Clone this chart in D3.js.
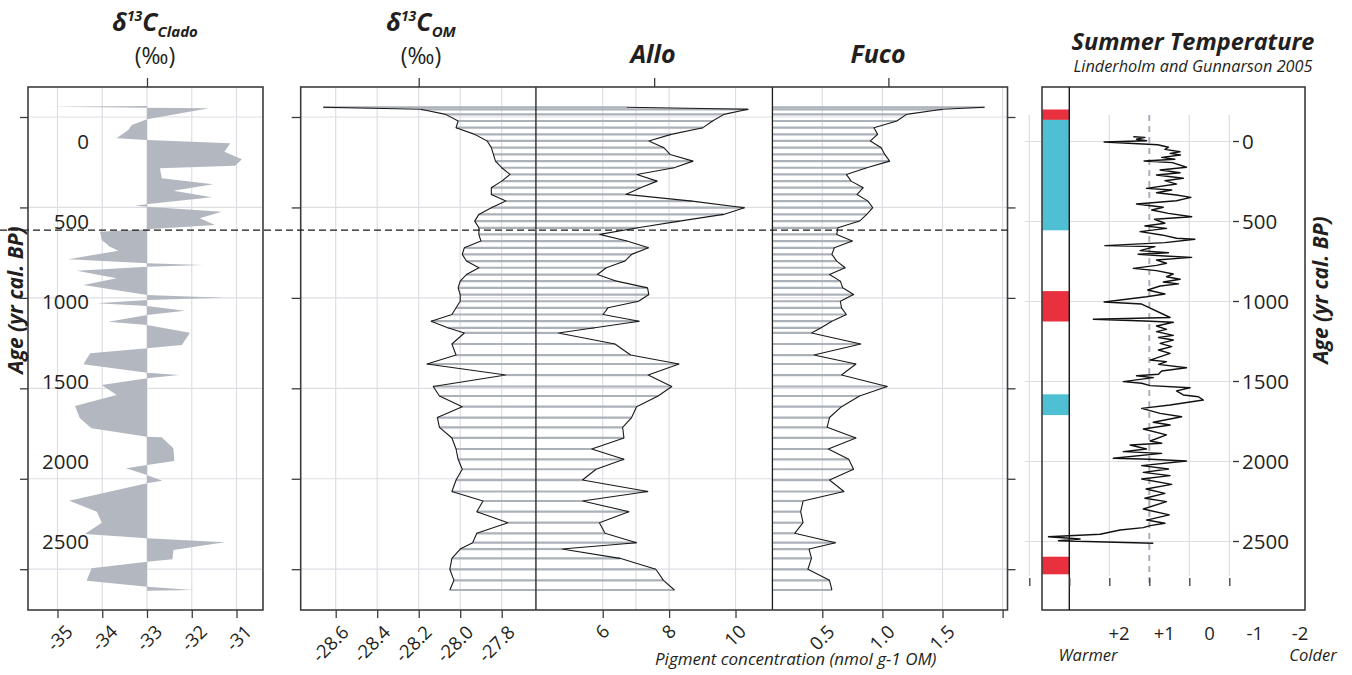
<!DOCTYPE html>
<html>
<head>
<meta charset="utf-8">
<script src="https://cdn.jsdelivr.net/npm/d3@7"></script>
<style>
body { margin: 0; background: #fff; }
text { font-family: "Open Sans", sans-serif; fill: #231f20; }
.bi { font-weight: bold; font-style: italic; }
.it { font-style: italic; }
</style>
</head>
<body>
<svg id="chart" width="1352" height="675"></svg>
<script>
// d13C Clado (left panel), depth / value
var cladoDepth = [8.78, 8.86, 8.97, 9.04, 10.25, 10.88, 11.44, 12.36, 12.54, 12.91, 13.84, 14.68, 15.38, 15.67, 16.78, 17.44, 18.15, 18.88, 19.62, 19.81, 19.92, 20.47, 21.20, 21.94, 22.42, 22.68, 23.60, 24.34, 24.78, 25.73, 26.18, 26.36, 26.55, 27.00, 27.84, 28.58, 29.68, 29.98, 30.23, 30.60, 30.90, 31.42, 31.89, 32.63, 33.00, 33.85, 35.21, 35.58, 36.13, 37.34, 38.27, 38.53, 38.89, 39.63, 40.74, 41.96, 43.32, 44.42, 45.35, 45.42, 46.63, 48.04, 48.48, 48.84, 49.58, 50.21, 50.50, 52.43, 53.64, 54.86, 56.11, 56.58, 57.03, 57.88, 58.91, 59.17, 59.90, 61.27, 61.94, 62.30, 62.38];
var cladoVal = [-33.0, -35.17, -33.0, -31.61, -33.0, -33.34, -33.42, -33.68, -33.0, -31.14, -31.27, -30.88, -31.03, -32.71, -32.67, -31.52, -32.41, -31.55, -32.97, -33.27, -33.0, -31.33, -31.82, -31.48, -33.0, -34.05, -34.01, -33.83, -33.64, -34.76, -33.0, -31.74, -33.0, -34.57, -33.68, -34.42, -33.0, -31.29, -33.0, -34.12, -33.0, -32.15, -33.0, -33.86, -33.0, -32.04, -32.22, -33.0, -34.27, -34.42, -33.0, -32.28, -33.0, -34.01, -33.68, -34.61, -34.5, -34.24, -33.0, -32.67, -32.41, -32.39, -33.0, -33.47, -33.0, -32.66, -33.0, -34.74, -34.12, -34.01, -34.39, -33.0, -31.26, -32.41, -32.43, -33.0, -34.24, -34.35, -33.0, -31.97, -33.0];

// pigment / d13C OM samples (shared depths)
var pigDepth = [8.92, 9.15, 9.71, 10.44, 11.18, 11.92, 12.65, 13.39, 14.14, 14.88, 15.61, 16.35, 17.09, 17.82, 18.56, 19.30, 20.03, 20.77, 21.51, 22.25, 22.98, 23.72, 24.46, 25.19, 25.93, 26.67, 27.42, 28.15, 28.89, 29.63, 30.37, 31.10, 31.84, 32.58, 33.31, 33.88, 35.10, 36.32, 37.31, 38.53, 39.80, 40.85, 42.03, 43.23, 44.31, 45.49, 46.71, 47.85, 48.95, 50.14, 51.41, 52.46, 53.64, 54.86, 56.03, 57.07, 57.77, 58.80, 60.01, 61.23, 62.30];
var omVal = [-28.66, -28.19, -28.07, -28.01, -28.02, -27.93, -27.87, -27.85, -27.84, -27.83, -27.80, -27.76, -27.80, -27.85, -27.85, -27.78, -27.85, -27.91, -27.93, -27.91, -27.91, -27.90, -27.98, -27.99, -27.97, -27.91, -27.97, -28.00, -28.01, -28.00, -28.00, -28.02, -28.04, -28.14, -28.06, -27.98, -28.04, -28.02, -28.16, -27.78, -28.13, -28.10, -27.99, -28.11, -28.10, -28.04, -28.02, -28.01, -27.99, -28.02, -28.04, -27.89, -27.92, -27.77, -27.92, -27.94, -28.00, -28.04, -28.05, -28.03, -28.05];
var alloVal = [6.72, 10.38, 9.65, 9.31, 9.02, 8.06, 7.39, 7.84, 8.03, 8.72, 8.15, 7.03, 7.64, 7.14, 6.70, 8.69, 10.27, 9.64, 8.31, 7.06, 5.91, 6.73, 7.38, 6.87, 6.67, 6.11, 5.84, 6.42, 7.35, 7.39, 7.08, 6.16, 6.01, 7.10, 5.76, 4.66, 6.37, 6.84, 8.30, 7.37, 8.08, 7.67, 7.02, 6.87, 6.60, 6.64, 5.67, 6.64, 5.80, 5.39, 7.36, 5.39, 6.79, 5.90, 6.07, 7.02, 4.77, 6.52, 7.60, 7.83, 8.16];
var fucoVal = [1.85, 1.50, 1.20, 1.12, 0.93, 0.96, 0.90, 0.99, 1.02, 1.06, 0.87, 0.70, 0.74, 0.84, 0.79, 0.88, 0.92, 0.87, 0.81, 0.63, 0.62, 0.75, 0.60, 0.58, 0.62, 0.69, 0.56, 0.65, 0.67, 0.76, 0.65, 0.66, 0.70, 0.58, 0.49, 0.41, 0.82, 0.43, 0.78, 0.66, 1.04, 0.81, 0.66, 0.56, 0.54, 0.78, 0.55, 0.72, 0.76, 0.56, 0.68, 0.34, 0.32, 0.34, 0.27, 0.61, 0.39, 0.41, 0.38, 0.56, 0.58];

// summer temperature anomaly (Linderholm & Gunnarson 2005)
var tempAge = [-30, -26, -14, -5, 3, 20, 36, 49, 64, 74, 84, 99, 111, 122, 132, 161, 178, 195, 209, 230, 245, 266, 293, 303, 320, 334, 349, 370, 391, 411, 428, 449, 470, 486, 511, 528, 543, 563, 584, 605, 611, 632, 651, 657, 682, 695, 705, 716, 724, 741, 761, 774, 793, 807, 828, 845, 861, 878, 890, 903, 928, 953, 970, 1003, 1016, 1100, 1111, 1122, 1130, 1153, 1174, 1188, 1212, 1225, 1241, 1262, 1282, 1303, 1324, 1366, 1376, 1393, 1414, 1434, 1455, 1464, 1476, 1501, 1511, 1526, 1539, 1559, 1584, 1595, 1616, 1636, 1647, 1668, 1699, 1720, 1755, 1772, 1797, 1834, 1872, 1886, 1897, 1922, 1938, 1949, 1980, 1986, 1997, 2026, 2047, 2068, 2088, 2109, 2143, 2172, 2199, 2230, 2251, 2297, 2334, 2366, 2386, 2401, 2413, 2428, 2455, 2470, 2484, 2495, 2511];
var tempVal = [0.40, 0.11, 0.32, 0.07, 1.13, -0.21, -0.48, -0.39, -0.77, -0.52, -0.78, -0.31, -0.64, 0.13, -0.58, -0.93, -0.27, -0.77, -0.18, -0.85, -0.39, -0.68, 0.07, -0.56, -0.18, -0.68, -1.04, -0.68, 0.32, -0.35, -0.06, -0.48, -1.06, -0.13, -0.39, 0.11, -0.43, 0.23, -0.31, -0.68, -1.14, -0.39, 1.11, -0.14, 0.23, -0.48, 0.28, -0.39, -1.06, -0.18, -0.43, -0.18, 0.40, -0.18, -0.60, -0.43, -0.77, -0.35, -0.73, -0.27, 0.04, -0.39, 0.07, 1.13, 0.19, -0.52, 1.40, 0.11, -0.60, -0.18, -0.43, -0.18, -0.60, -0.23, -0.60, -0.27, -0.56, -0.23, -0.52, -0.02, -0.43, -0.23, -0.93, -0.31, -0.23, 0.32, -0.10, 0.65, 0.19, -0.02, -1.02, -0.68, -0.85, -1.23, -1.35, -0.81, -0.52, 0.19, -0.27, -0.81, -0.10, -0.52, 0.15, -0.43, -0.02, -0.31, 0.48, 0.07, 0.65, -0.31, 0.90, -0.02, -0.93, 0.19, -0.48, 0.15, -0.52, 0.19, -0.56, 0.08, -0.39, 0.11, -0.43, 0.15, -0.50, 0.07, -0.39, -0.02, 0.15, 0.73, 1.23, 2.52, 1.73, 2.27, -0.10];

// warm / cold periods
var bandStart = [-200, -135, 935, 1580, 2595];
var bandEnd = [-135, 555, 1125, 1710, 2705];
var bandKind = ["warm", "cold", "warm", "cold", "warm"];

// ticks
var depthTicks = [10, 20, 30, 40, 50, 60];
var ageTicks = [0, 500, 1000, 1500, 2000, 2500];
var cladoTicks = [-35, -34, -33, -32, -31];
var omTicks = [-28.6, -28.4, -28.2, -28.0, -27.8];
var alloGrid = [6, 7, 8, 10];
var alloTicks = [6, 8, 10];
var fucoGrid = [0.5, 1.0, 1.5, 2.0];
var fucoTicks = [0.5, 1.0, 1.5];
var tempGrid = [3, 2, 1, -1, -2];
var tempTicks = [3, 2, 1, 0, -1, -2];
var tempLabels = ["+2", "+1", "0", "-1", "-2"];
var tempLabelVal = [2, 1, 0, -1, -2];

var gridCol = "#dddde4", frameCol = "#3c3c3c", barCol = "#abb1b9", fillCol = "#b3b8c0";
var redCol = "#e8303f", cyanCol = "#4fc0d3";

var svg = d3.select("#chart");

var p1 = {l: 28, r: 263, t: 87, b: 610};
var p2 = {l: 300.7, r: 1007.5, t: 87, b: 610};
var p3 = {l: 1042, r: 1305, t: 87, b: 610};

var yDepth = d3.scaleLinear().domain([10, 60]).range([117, 569.2]);
var yAge = d3.scaleLinear().domain([0, 2500]).range([141.5, 541.5]);
var xClado = d3.scaleLinear().domain([-35, -31]).range([57.5, 236.5]);
var xOM = d3.scaleLinear().domain([-28.6, -27.8]).range([335.7, 501.7]);
var xAllo = d3.scaleLinear().domain([6, 10]).range([602.7, 735.5]);
var xFuco = d3.scaleLinear().domain([0.5, 1.5]).range([822.3, 942.5]);
var xTemp = d3.scaleLinear().domain([1, -2]).range([1109.3, 1229.3]);
var xTempLbl = d3.scaleLinear().domain([2, -2]).range([1119, 1300]);

var omBase = -27.635, alloBase = 4, fucoBase = 0.085, cladoBase = -33;

var pig = pigDepth.map(function(d, i) {
  return {depth: d, om: omVal[i], allo: alloVal[i], fuco: fucoVal[i]};
});
var clado = cladoDepth.map(function(d, i) { return {depth: d, v: cladoVal[i]}; });
var temp = tempAge.map(function(d, i) { return {age: d, v: tempVal[i]}; });

function vgrid(vals, sc, p) {
  svg.append("g").selectAll("line").data(vals).join("line")
    .attr("x1", sc).attr("x2", sc).attr("y1", p.t).attr("y2", p.b)
    .attr("stroke", gridCol).attr("stroke-width", 1.2);
}
function hgrid(p) {
  svg.append("g").selectAll("line").data(depthTicks).join("line")
    .attr("x1", p.l).attr("x2", p.r)
    .attr("y1", yDepth).attr("y2", yDepth)
    .attr("stroke", gridCol).attr("stroke-width", 1.2);
}
function frame(p) {
  svg.append("rect").attr("x", p.l).attr("y", p.t)
    .attr("width", p.r - p.l).attr("height", p.b - p.t)
    .attr("fill", "none").attr("stroke", frameCol).attr("stroke-width", 1.6);
}
function axisTicks(axis, tx, ty) {
  var g = svg.append("g").attr("transform", "translate(" + tx + "," + ty + ")").call(axis);
  g.select(".domain").remove();
  g.selectAll("text").remove();
  g.selectAll("line").attr("stroke", frameCol).attr("stroke-width", 1.3);
}
function rotLabels(sc, vals, fmt, dx) {
  svg.append("g").selectAll("text").data(vals).join("text")
    .attr("font-size", 18.5)
    .attr("text-anchor", "middle")
    .attr("dominant-baseline", "central")
    .text(fmt)
    .attr("transform", function(d) {
      var w = this.getComputedTextLength();
      return "translate(" + (sc(d) + dx) + "," + (627 + 0.38 * w) + ") rotate(-45)";
    });
}

// ---------- panel 1 : d13C Clado ----------
vgrid(cladoTicks, xClado, p1);
hgrid(p1);

svg.append("path").datum(clado)
  .attr("d", d3.area()
    .y(function(d) { return yDepth(d.depth); })
    .x0(xClado(cladoBase))
    .x1(function(d) { return xClado(d.v); }))
  .attr("fill", fillCol);

frame(p1);
axisTicks(d3.axisLeft(yDepth).tickValues(depthTicks).tickSize(8), p1.l, 0);
axisTicks(d3.axisBottom(xClado).tickValues(cladoTicks).tickSize(8), 0, p1.b);
axisTicks(d3.axisTop(xClado).tickValues([-33]).tickSize(9), 0, p1.t);
rotLabels(xClado, cladoTicks, function(d) { return String(d); }, 1.5);

svg.append("g").selectAll("text").data(ageTicks).join("text")
  .attr("x", 89).attr("y", yAge).attr("dy", "0.36em")
  .attr("text-anchor", "end").attr("font-size", 20.5)
  .text(function(d) { return d; });

// ---------- panel 2 : d13C OM, Allo, Fuco ----------
vgrid(omTicks, xOM, p2);
vgrid(alloGrid, xAllo, p2);
vgrid(fucoGrid, xFuco, p2);
hgrid(p2);

var bars = svg.append("g").attr("stroke", barCol).attr("stroke-width", 2.2);
bars.selectAll(".bo").data(pig).join("line").attr("class", "bo")
  .attr("x1", function(d) { return xOM(d.om); }).attr("x2", xOM(omBase))
  .attr("y1", function(d) { return yDepth(d.depth); }).attr("y2", function(d) { return yDepth(d.depth); });
bars.selectAll(".ba").data(pig).join("line").attr("class", "ba")
  .attr("x1", xAllo(alloBase)).attr("x2", function(d) { return xAllo(d.allo); })
  .attr("y1", function(d) { return yDepth(d.depth); }).attr("y2", function(d) { return yDepth(d.depth); });
bars.selectAll(".bf").data(pig).join("line").attr("class", "bf")
  .attr("x1", xFuco(fucoBase)).attr("x2", function(d) { return xFuco(d.fuco); })
  .attr("y1", function(d) { return yDepth(d.depth); }).attr("y2", function(d) { return yDepth(d.depth); });

svg.append("g").selectAll("line").data([xOM(omBase), xFuco(fucoBase)]).join("line")
  .attr("x1", function(d) { return d; }).attr("x2", function(d) { return d; })
  .attr("y1", p2.t).attr("y2", p2.b)
  .attr("stroke", "#1a1a1a").attr("stroke-width", 1.3);

function profile(key, sc) {
  svg.append("path").datum(pig)
    .attr("d", d3.line()
      .x(function(d) { return sc(d[key]); })
      .y(function(d) { return yDepth(d.depth); }))
    .attr("fill", "none").attr("stroke", "#1a1a1a").attr("stroke-width", 1.1)
    .attr("stroke-linejoin", "round");
}
profile("om", xOM);
profile("allo", xAllo);
profile("fuco", xFuco);

frame(p2);
axisTicks(d3.axisLeft(yDepth).tickValues(depthTicks).tickSize(9), p2.l, 0);
axisTicks(d3.axisRight(yDepth).tickValues(depthTicks).tickSize(8), p2.r, 0);
axisTicks(d3.axisBottom(xOM).tickValues(omTicks).tickSize(8), 0, p2.b);
axisTicks(d3.axisBottom(xAllo).tickValues(alloTicks).tickSize(8), 0, p2.b);
axisTicks(d3.axisBottom(xFuco).tickValues(fucoGrid).tickSize(8), 0, p2.b);
axisTicks(d3.axisTop(xOM).tickValues([-28.2]).tickSize(9), 0, p2.t);
axisTicks(d3.axisTop(xAllo).tickValues([7.55]).tickSize(9), 0, p2.t);
axisTicks(d3.axisTop(xFuco).tickValues([1.05]).tickSize(9), 0, p2.t);
rotLabels(xOM, omTicks, function(d) { return d.toFixed(1); }, -6);
rotLabels(xAllo, alloTicks, function(d) { return String(d); }, -1);
rotLabels(xFuco, fucoTicks, function(d) { return d.toFixed(1); }, -1);

svg.append("text").attr("class", "it").attr("x", 655).attr("y", 665)
  .attr("font-size", 17).text("Pigment concentration (nmol g-1 OM)");

// dashed boundary
svg.append("line")
  .attr("x1", 0).attr("x2", p2.r)
  .attr("y1", yDepth(22.5)).attr("y2", yDepth(22.5))
  .attr("stroke", "#1a1a1a").attr("stroke-width", 1.2).attr("stroke-dasharray", "7,4");

// ---------- panel 3 : summer temperature ----------
svg.append("g").selectAll("line").data(ageTicks).join("line")
  .attr("x1", 1025).attr("x2", 1231).attr("y1", yAge).attr("y2", yAge)
  .attr("stroke", gridCol).attr("stroke-width", 1.2);
svg.append("g").selectAll("line").data(tempGrid).join("line")
  .attr("x1", xTemp).attr("x2", xTemp).attr("y1", 115).attr("y2", 576)
  .attr("stroke", gridCol).attr("stroke-width", 1.2);
svg.append("line")
  .attr("x1", xTemp(0)).attr("x2", xTemp(0)).attr("y1", 115).attr("y2", 588)
  .attr("stroke", "#a9b0ba").attr("stroke-width", 2).attr("stroke-dasharray", "6,5");

svg.append("g").selectAll("rect").data(bandStart).join("rect")
  .attr("x", p3.l).attr("width", xTemp(2) - p3.l)
  .attr("y", function(d) { return yAge(d); })
  .attr("height", function(d, i) { return yAge(bandEnd[i]) - yAge(d); })
  .attr("fill", function(d, i) { return bandKind[i] === "warm" ? redCol : cyanCol; });

frame(p3);
svg.append("line").attr("x1", xTemp(2)).attr("x2", xTemp(2))
  .attr("y1", p3.t).attr("y2", p3.b).attr("stroke", "#1a1a1a").attr("stroke-width", 1.4);

axisTicks(d3.axisBottom(xTemp).tickValues(tempTicks).tickSize(8), 0, 578);

svg.append("path").datum(temp)
  .attr("d", d3.line()
    .x(function(d) { return xTemp(d.v); })
    .y(function(d) { return yAge(d.age); }))
  .attr("fill", "none").attr("stroke", "#111").attr("stroke-width", 1.4)
  .attr("stroke-linejoin", "round");

var ageAx = svg.append("g");
ageAx.selectAll("line").data(ageTicks).join("line")
  .attr("x1", 1233).attr("x2", 1239).attr("y1", yAge).attr("y2", yAge)
  .attr("stroke", "#333").attr("stroke-width", 1.3);
ageAx.selectAll("text").data(ageTicks).join("text")
  .attr("x", 1242).attr("y", yAge).attr("dy", "0.36em").attr("font-size", 20.5)
  .text(function(d) { return d; });

svg.append("g").selectAll("text").data(tempLabelVal).join("text")
  .attr("x", xTempLbl).attr("y", 640).attr("text-anchor", "middle").attr("font-size", 18.5)
  .text(function(d, i) { return tempLabels[i]; });
svg.append("text").attr("class", "it").attr("x", 1088).attr("y", 661)
  .attr("text-anchor", "middle").attr("font-size", 16.5).text("Warmer");
svg.append("text").attr("class", "it").attr("x", 1313).attr("y", 661)
  .attr("text-anchor", "middle").attr("font-size", 16.5).text("Colder");

// ---------- titles ----------
function deltaTitle(cx, sub) {
  var t = svg.append("text").attr("class", "bi").attr("x", cx).attr("y", 31)
    .attr("text-anchor", "middle").attr("font-size", 25);
  t.append("tspan").text("δ");
  t.append("tspan").attr("font-size", 14).attr("dy", -10).text("13");
  t.append("tspan").attr("dy", 10).text("C");
  t.append("tspan").attr("font-size", 15).attr("dy", 6).text(sub);
  svg.append("text").attr("x", cx).attr("y", 64).attr("text-anchor", "middle")
    .attr("font-size", 23).text("(‰)");
}
deltaTitle(155, "Clado");
deltaTitle(421, "OM");

svg.append("text").attr("class", "bi").attr("x", 653).attr("y", 63)
  .attr("text-anchor", "middle").attr("font-size", 25).text("Allo");
svg.append("text").attr("class", "bi").attr("x", 878).attr("y", 63)
  .attr("text-anchor", "middle").attr("font-size", 25).text("Fuco");
svg.append("text").attr("class", "bi").attr("x", 1193).attr("y", 50)
  .attr("text-anchor", "middle").attr("font-size", 23.5).text("Summer Temperature");
svg.append("text").attr("class", "it").attr("x", 1193).attr("y", 72)
  .attr("text-anchor", "middle").attr("font-size", 16.3).text("Linderholm and Gunnarson 2005");

svg.append("text").attr("class", "bi").attr("font-size", 21).attr("text-anchor", "middle")
  .attr("transform", "translate(23,300) rotate(-90)").text("Age (yr cal. BP)");
svg.append("text").attr("class", "bi").attr("font-size", 21).attr("text-anchor", "middle")
  .attr("transform", "translate(1328,290) rotate(-90)").text("Age (yr cal. BP)");
</script>
</body>
</html>
